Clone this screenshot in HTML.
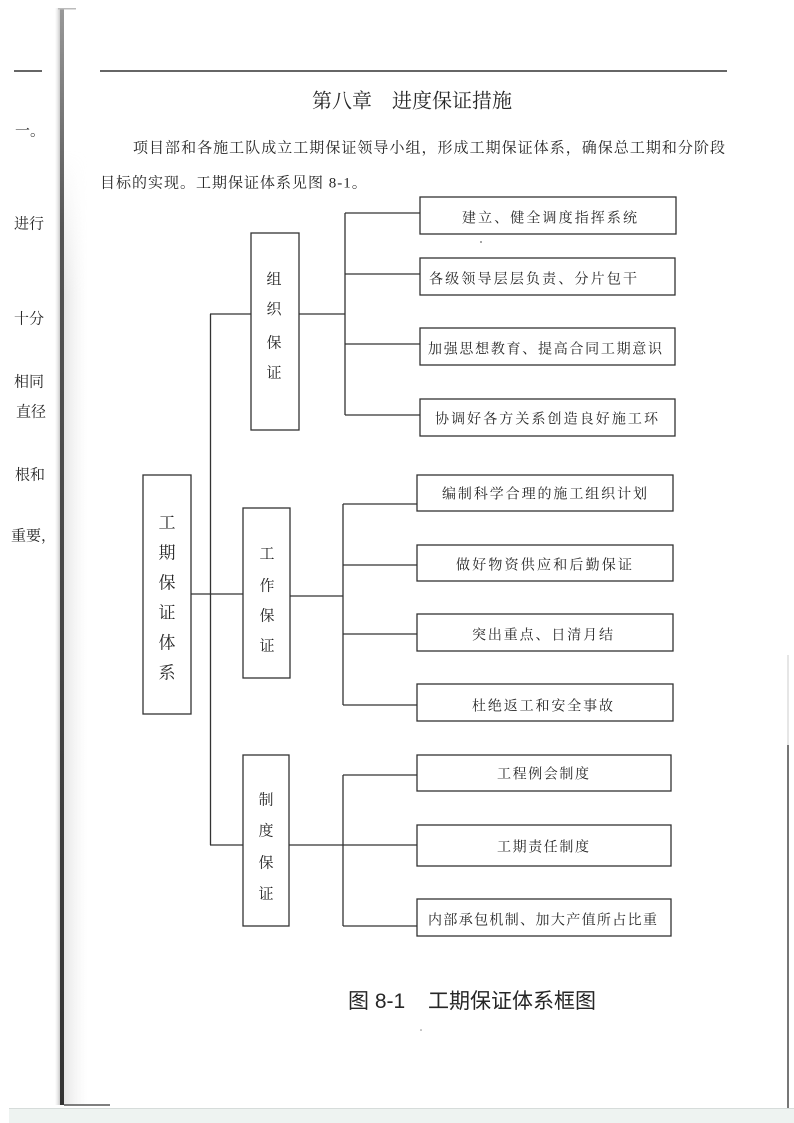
<!DOCTYPE html>
<html>
<head>
<meta charset="utf-8">
<style>
  html,body{margin:0;padding:0;background:#fff;}
  body{width:794px;height:1123px;overflow:hidden;position:relative;}
  svg{position:absolute;left:0;top:0;}
  .s{font-family:"Liberation Serif","Noto Serif CJK SC",serif;fill:#262626;}
  .h{font-family:"Liberation Sans","Noto Sans CJK SC",sans-serif;fill:#262626;}
</style>
</head>
<body>
<svg width="794" height="1123" viewBox="0 0 794 1123" xmlns="http://www.w3.org/2000/svg">
  <defs>
    <linearGradient id="shadeL" x1="0" y1="0" x2="1" y2="0">
      <stop offset="0" stop-color="#bbb" stop-opacity="0"/>
      <stop offset="1" stop-color="#888" stop-opacity="0.7"/>
    </linearGradient>
    <linearGradient id="shadeR" x1="0" y1="0" x2="1" y2="0">
      <stop offset="0" stop-color="#b5b5b5" stop-opacity="0.35"/>
      <stop offset="1" stop-color="#e5e5e5" stop-opacity="0"/>
    </linearGradient>
    <linearGradient id="fadeV" x1="0" y1="0" x2="0" y2="1">
      <stop offset="0" stop-color="#fff" stop-opacity="0"/>
      <stop offset="0.15" stop-color="#fff" stop-opacity="1"/>
      <stop offset="1" stop-color="#fff" stop-opacity="1"/>
    </linearGradient>
    <mask id="m1">
      <rect x="60" y="150" width="60" height="960" fill="url(#fadeV)"/>
    </mask>
    <linearGradient id="core" x1="0" y1="0" x2="0" y2="1">
      <stop offset="0" stop-color="#999"/>
      <stop offset="0.2" stop-color="#555"/>
      <stop offset="1" stop-color="#333"/>
    </linearGradient>
  </defs>

  <!-- binding shadow -->
  <rect x="55" y="8" width="7" height="1097" fill="url(#shadeL)"/>
  <rect x="64" y="150" width="24" height="955" fill="url(#shadeR)" mask="url(#m1)"/>
  <rect x="60" y="8" width="4" height="1097" fill="url(#core)"/>
  <rect x="58" y="8" width="18" height="1.5" fill="#bbb"/>
  <line x1="64" y1="1105" x2="110" y2="1105" stroke="#555" stroke-width="1.5"/>

  <!-- bottom band -->
  <rect x="9" y="1108" width="785" height="15" fill="#eef3f1"/>
  <rect x="9" y="1108" width="785" height="1" fill="#d6dcda"/>

  <!-- right edge line -->
  <line x1="788" y1="655" x2="788" y2="745" stroke="#ccc" stroke-width="1"/>
  <line x1="788" y1="745" x2="788" y2="1108" stroke="#555" stroke-width="1.6"/>

  <!-- left margin (previous page) -->
  <line x1="14" y1="71" x2="42" y2="71" stroke="#333" stroke-width="1.4"/>
  <g class="s" font-size="15">
    <text x="15" y="135.7">一。</text>
    <text x="14" y="228.7">进行</text>
    <text x="14" y="323.7">十分</text>
    <text x="14" y="386.7">相同</text>
    <text x="16" y="416.7">直径</text>
    <text x="15" y="479.7">根和</text>
    <text x="11" y="540.7">重要，</text>
  </g>

  <!-- header line -->
  <line x1="100" y1="71" x2="727" y2="71" stroke="#333" stroke-width="1.4"/>

  <!-- title -->
  <text class="s" x="312" y="107.6" font-size="20" textLength="200" lengthAdjust="spacing">第八章　进度保证措施</text>

  <!-- paragraph -->
  <text class="s" x="133" y="152.7" font-size="15" textLength="592" lengthAdjust="spacing">项目部和各施工队成立工期保证领导小组，形成工期保证体系，确保总工期和分阶段</text>
  <text class="s" x="100" y="187.7" font-size="15" letter-spacing="1">目标的实现。工期保证体系见图 8-1。</text>

  <!-- diagram lines -->
  <g fill="none" stroke="#333" stroke-width="1.3">
    <!-- main box -->
    <rect x="143" y="475" width="48" height="239"/>
    <line x1="191" y1="594" x2="243" y2="594"/>
    <line x1="210.5" y1="314" x2="210.5" y2="845"/>
    <line x1="210" y1="314" x2="251" y2="314"/>
    <line x1="210" y1="845" x2="243" y2="845"/>

    <!-- group 1 -->
    <rect x="251" y="233" width="48" height="197"/>
    <line x1="299" y1="314" x2="345" y2="314"/>
    <line x1="345" y1="213" x2="345" y2="415"/>
    <line x1="345" y1="213" x2="420" y2="213"/>
    <line x1="345" y1="274" x2="420" y2="274"/>
    <line x1="345" y1="344" x2="420" y2="344"/>
    <line x1="345" y1="415" x2="420" y2="415"/>
    <rect x="420" y="197" width="256" height="37"/>
    <rect x="420" y="258" width="255" height="37"/>
    <rect x="420" y="328" width="255" height="37"/>
    <rect x="420" y="399" width="255" height="37"/>

    <!-- group 2 -->
    <rect x="243" y="508" width="47" height="170"/>
    <line x1="290" y1="596" x2="343" y2="596"/>
    <line x1="343" y1="504" x2="343" y2="705"/>
    <line x1="343" y1="504" x2="417" y2="504"/>
    <line x1="343" y1="565" x2="417" y2="565"/>
    <line x1="343" y1="634" x2="417" y2="634"/>
    <line x1="343" y1="705" x2="417" y2="705"/>
    <rect x="417" y="475" width="256" height="36"/>
    <rect x="417" y="545" width="256" height="36"/>
    <rect x="417" y="614" width="256" height="37"/>
    <rect x="417" y="684" width="256" height="37"/>

    <!-- group 3 -->
    <rect x="243" y="755" width="46" height="171"/>
    <line x1="289" y1="845" x2="417" y2="845"/>
    <line x1="343" y1="775" x2="343" y2="926"/>
    <line x1="343" y1="775" x2="417" y2="775"/>
    <line x1="343" y1="926" x2="417" y2="926"/>
    <rect x="417" y="755" width="254" height="36"/>
    <rect x="417" y="825" width="254" height="41"/>
    <rect x="417" y="899" width="254" height="37"/>
  </g>

  <!-- main box text -->
  <g class="s" font-size="17" text-anchor="middle">
    <text x="167" y="528.5">工</text>
    <text x="167" y="558.5">期</text>
    <text x="167" y="588.5">保</text>
    <text x="167" y="618.5">证</text>
    <text x="167" y="648.5">体</text>
    <text x="167" y="678.5">系</text>
  </g>

  <!-- second-level box text -->
  <g class="s" font-size="15" text-anchor="middle">
    <text x="274" y="284">组</text>
    <text x="274" y="314">织</text>
    <text x="274" y="347.5">保</text>
    <text x="274" y="377.5">证</text>

    <text x="267" y="558.7">工</text>
    <text x="267" y="590.7">作</text>
    <text x="267" y="620.7">保</text>
    <text x="267" y="650.7">证</text>

    <text x="266" y="804.7">制</text>
    <text x="266" y="835.7">度</text>
    <text x="266" y="867.7">保</text>
    <text x="266" y="898.7">证</text>
  </g>

  <!-- right box text -->
  <g class="s" font-size="14">
    <text x="462" y="222.3" textLength="175" lengthAdjust="spacing">建立、健全调度指挥系统</text>
    <text x="429" y="283.3" textLength="208" lengthAdjust="spacing">各级领导层层负责、分片包干</text>
    <text x="428" y="353.3" textLength="234" lengthAdjust="spacing">加强思想教育、提高合同工期意识</text>
    <text x="435" y="423.3" textLength="223" lengthAdjust="spacing">协调好各方关系创造良好施工环</text>

    <text x="442" y="498.3" textLength="205" lengthAdjust="spacing">编制科学合理的施工组织计划</text>
    <text x="456" y="569.3" textLength="176" lengthAdjust="spacing">做好物资供应和后勤保证</text>
    <text x="472" y="639.3" textLength="141" lengthAdjust="spacing">突出重点、日清月结</text>
    <text x="472" y="710.3" textLength="141" lengthAdjust="spacing">杜绝返工和安全事故</text>

    <text x="497" y="778.3" textLength="92" lengthAdjust="spacing">工程例会制度</text>
    <text x="497" y="851.3" textLength="92" lengthAdjust="spacing">工期责任制度</text>
    <text x="428" y="924.3" textLength="229" lengthAdjust="spacing">内部承包机制、加大产值所占比重</text>
  </g>

  <!-- caption -->
  <g class="h" font-size="21">
    <text x="348" y="1008">图 8-1</text>
    <text x="428" y="1008" textLength="168" lengthAdjust="spacing">工期保证体系框图</text>
  </g>

  <!-- scan specks -->
  <circle cx="481" cy="242" r="0.9" fill="#666"/>
  <circle cx="421" cy="1030" r="0.8" fill="#888"/>
</svg>
</body>
</html>
